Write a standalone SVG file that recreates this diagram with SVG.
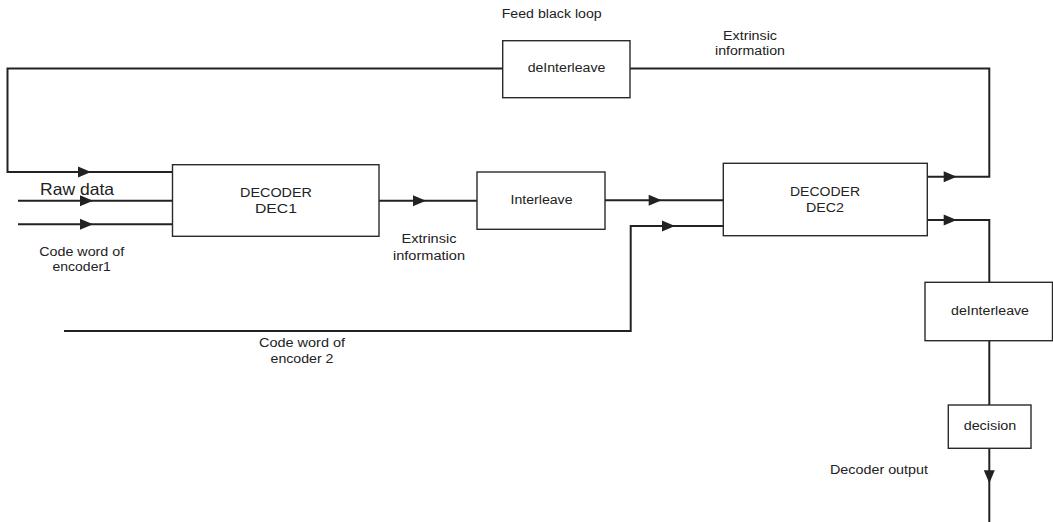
<svg xmlns="http://www.w3.org/2000/svg" xmlns:xlink="http://www.w3.org/1999/xlink" width="1053" height="522" viewBox="0 0 1053 522">
<style>
.box{fill:#fff;stroke:#2a2a2a;stroke-width:1.4}
.ln{fill:none;stroke:#222;stroke-width:2}
.t{font-family:"Liberation Sans",Arial,sans-serif;font-size:12px;fill:#222}
.m{text-anchor:middle}
.big{font-size:16.5px}
</style>
<defs>
<path id="ah" d="M-13,-5.5 L0,0 L-13,5.5 Z" fill="#222"/>
</defs>
<rect width="1053" height="522" fill="#fff"/>
<g id="connectors">
<path class="ln" d="M927.3,176.7 H989.3 V68.5 H630"/>
<path class="ln" d="M502.7,68.5 H7.5 V172 H172.5"/>
<path class="ln" d="M18,200.7 H172.5"/>
<path class="ln" d="M18,224.3 H172.5"/>
<path class="ln" d="M379,200.7 H477"/>
<path class="ln" d="M605,200.3 H723.3"/>
<path class="ln" d="M64,331 H630.7 V226 H723.3"/>
<path class="ln" d="M927.3,220 H989.3 V282.3"/>
<path class="ln" d="M989.3,340.7 V405"/>
<path class="ln" d="M989.3,448.3 V522"/>
<use xlink:href="#ah" transform="translate(91,172)"/>
<use xlink:href="#ah" transform="translate(93,200.7)"/>
<use xlink:href="#ah" transform="translate(93,224.3)"/>
<use xlink:href="#ah" transform="translate(426,200.7)"/>
<use xlink:href="#ah" transform="translate(661.7,200.3)"/>
<use xlink:href="#ah" transform="translate(675,226)"/>
<use xlink:href="#ah" transform="translate(956.7,176.7)"/>
<use xlink:href="#ah" transform="translate(956.7,220)"/>
<use xlink:href="#ah" transform="translate(989.3,483.3) rotate(90)"/>
</g>
<g id="dec1">
<rect class="box" x="172.5" y="164.7" width="206.5" height="71.6"/>
<text class="t m" x="276" y="197" textLength="72" lengthAdjust="spacingAndGlyphs">DECODER</text>
<text class="t m" x="276" y="213" textLength="42" lengthAdjust="spacingAndGlyphs">DEC1</text>
</g>
<g id="deinterleave-top">
<rect class="box" x="502.7" y="40.7" width="127.3" height="57"/>
<text class="t m" x="566.5" y="72.3" textLength="77.7" lengthAdjust="spacingAndGlyphs">deInterleave</text>
</g>
<g id="interleave">
<rect class="box" x="477" y="172" width="128" height="57.3"/>
<text class="t m" x="541.5" y="204" textLength="62" lengthAdjust="spacingAndGlyphs">Interleave</text>
</g>
<g id="dec2">
<rect class="box" x="723.3" y="163.3" width="204" height="72.4"/>
<text class="t m" x="825" y="195.7" textLength="70" lengthAdjust="spacingAndGlyphs">DECODER</text>
<text class="t m" x="825" y="211.7" textLength="38" lengthAdjust="spacingAndGlyphs">DEC2</text>
</g>
<g id="deinterleave-bottom">
<rect class="box" x="925" y="282.3" width="127.5" height="58.4"/>
<text class="t m" x="990" y="315" textLength="78" lengthAdjust="spacingAndGlyphs">deInterleave</text>
</g>
<g id="decision">
<rect class="box" x="948.3" y="405" width="82.7" height="43.3"/>
<text class="t m" x="990" y="430" textLength="52.7" lengthAdjust="spacingAndGlyphs">decision</text>
</g>
<g id="labels">
<text class="t" x="501.7" y="18.3" textLength="100" lengthAdjust="spacingAndGlyphs">Feed black loop</text>
<text class="t m" x="750" y="39.5" textLength="54" lengthAdjust="spacingAndGlyphs">Extrinsic</text>
<text class="t m" x="750" y="55" textLength="70" lengthAdjust="spacingAndGlyphs">information</text>
<text class="t big" x="40" y="195" textLength="74" lengthAdjust="spacingAndGlyphs">Raw data</text>
<text class="t m" x="81.7" y="256" textLength="85" lengthAdjust="spacingAndGlyphs">Code word of</text>
<text class="t m" x="81.7" y="270.7" textLength="58.3" lengthAdjust="spacingAndGlyphs">encoder1</text>
<text class="t m" x="429" y="243" textLength="55" lengthAdjust="spacingAndGlyphs">Extrinsic</text>
<text class="t m" x="429" y="260" textLength="72" lengthAdjust="spacingAndGlyphs">information</text>
<text class="t m" x="302" y="346.7" textLength="86" lengthAdjust="spacingAndGlyphs">Code word of</text>
<text class="t m" x="302" y="363.3" textLength="63" lengthAdjust="spacingAndGlyphs">encoder 2</text>
<text class="t" x="830" y="474" textLength="98" lengthAdjust="spacingAndGlyphs">Decoder output</text>
</g>
</svg>
